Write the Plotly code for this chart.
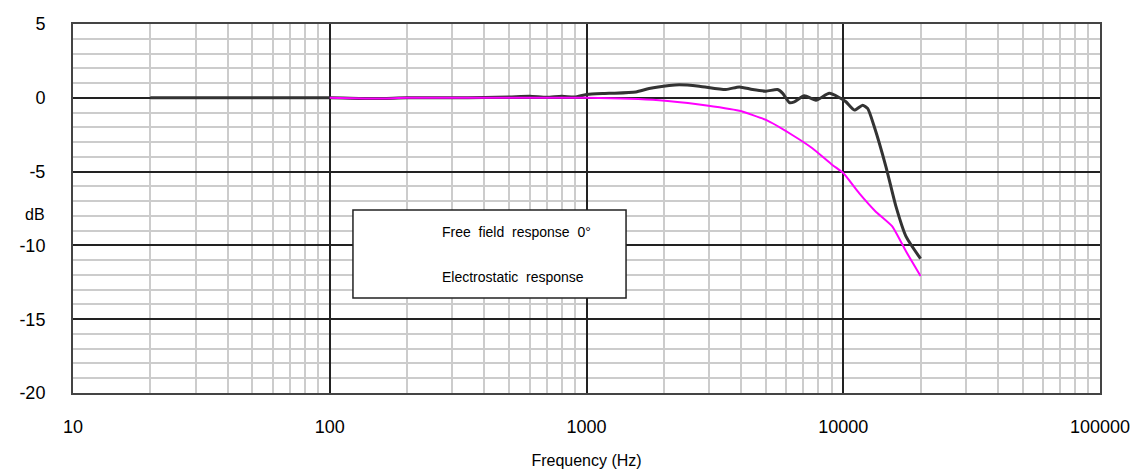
import plotly.graph_objects as go

# Free field response 0° (black)
ff_freq = [20, 50, 100, 150, 200, 300, 400, 500, 600, 700, 800, 900, 1000, 1225, 1556, 1754,
           2099, 2297, 2749, 3490, 3937, 4436, 5000, 5549, 5810, 6166, 6446, 7050, 7830, 8820,
           9640, 10240, 11050, 11900, 12440, 13210, 14660, 16040, 17550, 20000]
ff_db = [0, 0, 0, -0.05, 0, 0, 0.02, 0.05, 0.1, 0.03, 0.1, 0.05, 0.23, 0.3, 0.4, 0.63,
         0.83, 0.88, 0.79, 0.56, 0.74, 0.56, 0.45, 0.56, 0.3, -0.32, -0.27, 0.14, -0.16, 0.3,
         0.02, -0.27, -0.83, -0.5, -0.72, -1.96, -4.66, -7.36, -9.39, -10.9]

# Electrostatic response (magenta)
es_freq = [100, 150, 200, 300, 500, 700, 1000, 1915, 2749, 3937, 5000, 6330, 7580, 9070,
           10000, 11530, 13360, 15490, 17550, 20000]
es_db = [0, -0.05, 0, 0, 0, 0, 0, -0.16, -0.45, -0.88, -1.5, -2.52, -3.42, -4.55,
         -5.1, -6.46, -7.7, -8.7, -10.4, -12.07]

x_ticks = [10, 100, 1000, 10000, 100000]
x_ticklabels = ["10", "100", "1000", "10000", "100000"]
y_ticks = [-20, -15, -10, -5, 0, 5]
y_ticklabels = ["-20", "-15", "-10", "-5", "0", "5"]

legend_labels = ["Free  field  response  0°", "Electrostatic  response"]

fig = go.Figure()
fig.add_trace(go.Scatter(x=ff_freq, y=ff_db, mode="lines",
                         line=dict(color="#333333", width=3, shape="spline", smoothing=0.6),
                         name=legend_labels[0], showlegend=False))
fig.add_trace(go.Scatter(x=es_freq, y=es_db, mode="lines",
                         line=dict(color="#ff00ff", width=2, shape="spline", smoothing=0.5),
                         name=legend_labels[1], showlegend=False))

font_main = "Liberation Sans, Arial, sans-serif"

fig.update_xaxes(type="log", range=[1, 5], tickvals=x_ticks, ticktext=x_ticklabels,
                 showgrid=True, gridcolor="#222222", gridwidth=1.5,
                 minor=dict(dtick="D1", showgrid=True, gridcolor="#cccccc", gridwidth=1.5),
                 showline=True, linecolor="#444444", linewidth=2, mirror=True,
                 zeroline=False, ticks="", ticklabelstandoff=16, automargin=False,
                 tickfont=dict(family=font_main, size=18, color="#000000"),
                 title=dict(text="Frequency (Hz)", standoff=19,
                            font=dict(family=font_main, size=16, color="#000000")))
fig.update_yaxes(range=[-20, 5], tickvals=y_ticks, ticktext=y_ticklabels,
                 showgrid=True, gridcolor="#222222", gridwidth=1.5,
                 minor=dict(dtick=1, showgrid=True, gridcolor="#cccccc", gridwidth=1.5),
                 showline=True, linecolor="#444444", linewidth=2, mirror=True,
                 zeroline=False, ticks="", ticklabelstandoff=22, automargin=False,
                 tickfont=dict(family=font_main, size=18, color="#000000"))

# legend box
fig.add_shape(type="rect", xref="paper", yref="paper", x0=0.2726, x1=0.5385, y0=0.2575, y1=0.496,
              line=dict(color="#222222", width=1.5), fillcolor="white", layer="above")
fig.add_annotation(xref="paper", yref="paper", x=0.357, y=0.436, text=legend_labels[0],
                   showarrow=False, xanchor="left", yanchor="middle",
                   font=dict(family=font_main, size=14, color="#000000"))
fig.add_annotation(xref="paper", yref="paper", x=0.357, y=0.314, text=legend_labels[1],
                   showarrow=False, xanchor="left", yanchor="middle",
                   font=dict(family=font_main, size=14, color="#000000"))

# dB label
fig.add_annotation(xref="paper", yref="y", x=-0.037, y=-7.9, text="dB", showarrow=False,
                   xanchor="center", yanchor="middle",
                   font=dict(family=font_main, size=16, color="#000000"))

fig.update_layout(width=1142, height=470, margin=dict(l=65, r=50, t=16, b=85),
                  plot_bgcolor="white", paper_bgcolor="white", showlegend=False)

fig.write_html("out.html")
